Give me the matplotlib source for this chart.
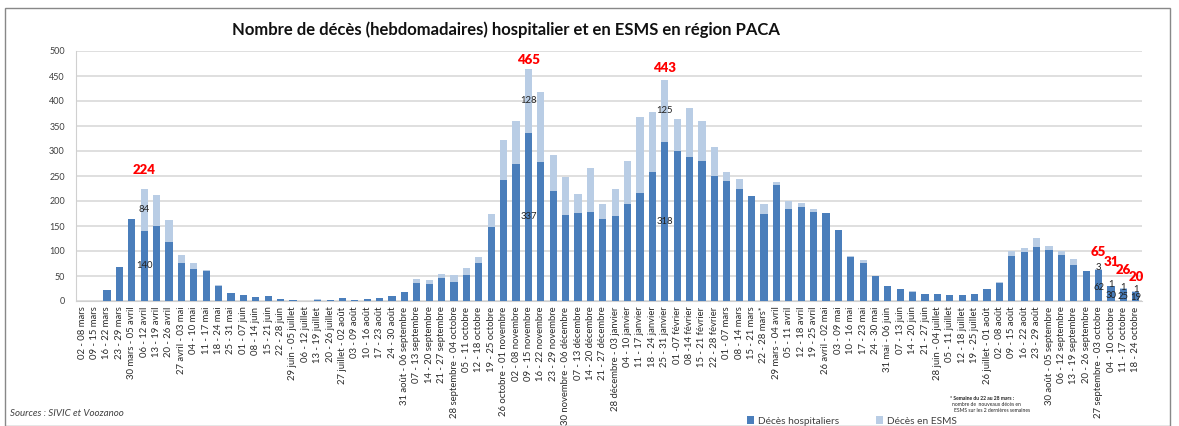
import numpy as np
import matplotlib
matplotlib.use('Agg')
import matplotlib.pyplot as plt
from matplotlib.patches import Rectangle

plt.rcParams['font.family'] = ['Lato', 'DejaVu Sans']

semaines = [
    '02 - 08 mars', '09 - 15 mars', '16 - 22 mars', '23 - 29 mars',
    '30 mars - 05 avril', '06 - 12 avril', '13 - 19 avril', '20 - 26 avril',
    '27 avril - 03 mai', '04 - 10 mai', '11 - 17 mai', '18 - 24 mai',
    '25 - 31 mai', '01 - 07 juin', '08 - 14 juin', '15 - 21 juin',
    '22 - 28 juin', '29 juin - 05 juillet', '06 - 12 juillet', '13 - 19 juillet',
    '20 - 26 juillet', '27 juillet - 02 août', '03 - 09 août', '10 - 16 août',
    '17 - 23 août', '24 - 30 août', '31 août - 06 septembre', '07 - 13 septembre',
    '14 - 20 septembre', '21 - 27 septembre', '28 septembre - 04 octobre',
    '05 - 11 octobre', '12 - 18 octobre', '19 - 25 octobre',
    '26 octobre - 01 novembre', '02 - 08 novembre', '09 - 15 novembre',
    '16 - 22 novembre', '23 - 29 novembre', '30 novembre - 06 décembre',
    '07 - 13 décembre', '14 - 20 décembre', '21 - 27 décembre',
    '28 décembre - 03 janvier', '04 - 10 janvier', '11 - 17 janvier',
    '18 - 24 janvier', '25 - 31 janvier', '01 -07 février', '08 -14 février',
    '15 - 21 février', '22 - 28 février', '01 - 07 mars', '08 - 14 mars',
    '15 - 21 mars', '22 - 28 mars*', '29 mars - 04 avril', '05 - 11 avril',
    '12 - 18 avril', '19 - 25 avril', '26 avril - 02 mai', '03 - 09 mai',
    '10 - 16 mai', '17 - 23 mai', '24 - 30 mai', '31 mai - 06 juin',
    '07 - 13 juin', '14 - 20 juin', '21 - 27 juin', '28 juin - 04 juillet',
    '05 - 11 juillet', '12 - 18 juillet', '19 - 25 juillet',
    '26 juillet - 01 août', '02 - 08 août', '09 - 15 août', '16 - 22 août',
    '23 - 29 août', '30 août - 05 septembre', '06 - 12 septembre',
    '13 - 19 septembre', '20 - 26 septembre', '27 septembre - 03 octobre',
    '04 - 10 octobre', '11 - 17 octobre', '18 - 24 octobre',
]

# deces hospitaliers
hospit = [
    0, 0, 23, 68, 164, 140, 150, 119, 77, 64,
    61, 31, 17, 13, 9, 10, 5, 3, 0, 3,
    3, 6, 3, 5, 7, 10, 19, 37, 35, 47,
    39, 53, 77, 149, 243, 275, 337, 278, 220, 172,
    176, 179, 165, 171, 194, 217, 259, 318, 301, 288,
    281, 251, 241, 225, 210, 174, 233, 184, 189, 179,
    177, 143, 89, 77, 50, 30, 25, 19, 15, 14,
    13, 12, 14, 25, 37, 91, 99, 109, 103, 92,
    73, 60, 62, 30, 25, 19,
]
# deces en ESMS
esms = [
    0, 0, 0, 0, 0, 84, 63, 43, 16, 12,
    1, 1, 0, 0, 0, 0, 0, 0, 0, 1,
    0, 1, 0, 0, 0, 1, 0, 7, 8, 8,
    13, 14, 12, 26, 79, 86, 128, 140, 73, 76,
    39, 88, 30, 54, 87, 152, 120, 125, 63, 99,
    79, 58, 18, 20, 0, 21, 6, 16, 8, 6,
    0, 0, 1, 5, 0, 0, 0, 2, 0, 0,
    0, 0, 0, 0, 1, 9, 8, 17, 7, 8,
    12, 0, 3, 1, 1, 1,
]
# semaines annotees (index -> total en rouge)
pics = [5, 36, 47, 82, 83, 84, 85]
pic_offsets_px = [19, 9, 11, 16, 23, 18, 14]
valeurs_ecrites = [5, 36, 47, 82, 83, 84, 85]

hospit = np.array(hospit)
esms = np.array(esms)
total = hospit + esms
x = np.arange(len(semaines))

c_hosp = '#4a7ebb'
c_esms = '#b9cde5'

fig = plt.figure(figsize=(11.79, 4.26), dpi=100)
ax = fig.add_axes([76 / 1179, 1 - 301 / 426, (1142 - 76) / 1179, 250 / 426])

ax.bar(x, hospit, width=0.58, color=c_hosp, label='Décès hospitaliers', zorder=3)
ax.bar(x, esms, width=0.58, bottom=hospit, color=c_esms, label='Décès en ESMS', zorder=3)

ax.set_xlim(-0.5, len(semaines) - 0.5)
ax.set_ylim(0, 500)
ax.set_yticks(np.arange(0, 501, 50))
ax.yaxis.grid(True, color='#d9d9d9', linewidth=1.2, zorder=0)
ax.tick_params(axis='y', length=0, labelsize=6.5, colors='#404040', pad=8)
ax.set_xticks(x)
ax.set_xticklabels(semaines, rotation=90, fontsize=6.8, color='#2a2a2a')
ax.tick_params(axis='x', length=0, pad=4)
for s in ['top', 'right']:
    ax.spines[s].set_visible(False)
ax.spines['left'].set_color('#d0d0d0')
ax.spines['bottom'].set_color('#d0d0d0')

# valeurs dans les barres
for i in valeurs_ecrites:
    if esms[i] == 0:
        continue
    if esms[i] > 20:
        y_light = hospit[i] + esms[i] / 2
        y_dark = hospit[i] / 2
    else:
        y_light = total[i] + 2
        y_dark = hospit[i] / 2 - 3
    ax.text(x[i], y_light, str(esms[i]), ha='center', va='center',
            fontsize=6.8, color='#222222', zorder=5)
    ax.text(x[i], y_dark, str(hospit[i]), ha='center', va='center',
            fontsize=6.8, color='#222222', zorder=5)

# totaux en rouge
for i, dy in zip(pics, pic_offsets_px):
    ax.annotate(str(total[i]), xy=(x[i], total[i]), xytext=(0, dy * 0.72),
                textcoords='offset points', ha='center', va='center',
                fontsize=9.5, fontweight='heavy', color='#ff0000', zorder=6)

fig.text(506 / 1179, 1 - 30 / 426, 'Nombre de décès (hebdomadaires) hospitalier et en ESMS en région PACA',
         ha='center', va='center', fontsize=12, fontweight='bold', color='#111111')

fig.text(10 / 1179, 1 - 413 / 426, 'Sources : SIVIC et Voozanoo', fontsize=7,
         style='italic', color='#404040', va='center')

fig.text(950 / 1179, 1 - 398 / 426, '* Semaine du 22 au 28 mars :', fontsize=3.6,
         fontweight='bold', color='#222222', va='center')
fig.text(952 / 1179, 1 - 405 / 426, 'nombre de  nouveaux décès en', fontsize=3.6,
         color='#222222', va='center')
fig.text(954 / 1179, 1 - 411 / 426, 'ESMS sur les 2 dernières semaines', fontsize=3.6,
         color='#222222', va='center')

leg = fig.legend(loc='center', bbox_to_anchor=(852 / 1179, 1 - 421 / 426), ncol=2,
                 frameon=False, fontsize=7.3, handlelength=0.7, handleheight=0.7,
                 columnspacing=3.6, handletextpad=0.4, labelcolor='#404040')

fig.patches.append(Rectangle((5 / 1179, 0.0), 1165 / 1179, 1 - 8 / 426,
                             transform=fig.transFigure, fill=False,
                             edgecolor='#888888', linewidth=1))

fig.savefig('out.png', dpi=100)
